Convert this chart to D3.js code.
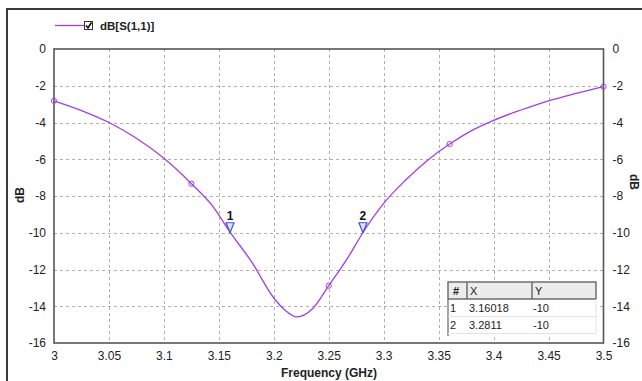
<!DOCTYPE html>
<html>
<head>
<meta charset="utf-8">
<title>S11</title>
<style>
  body { margin: 0; background: #fff; }
  svg { display: block; font-family: 'Liberation Sans', Arial, sans-serif; }
</style>
<script src="https://d3js.org/d3.v7.min.js"></script>
</head>
<body>
<svg id="chart" width="642" height="381"></svg>
<script>
// frequency (GHz) and dB[S(1,1)]
var freq = [3.0, 3.025, 3.05, 3.075, 3.1, 3.125, 3.145, 3.16, 3.18, 3.2, 3.21, 3.221, 3.235, 3.25, 3.268, 3.281, 3.3, 3.32, 3.34, 3.36, 3.38, 3.4, 3.425, 3.45, 3.475, 3.5];
var s11 = [-2.82, -3.35, -4.0, -4.86, -5.95, -7.33, -8.6, -9.95, -11.6, -13.55, -14.2, -14.58, -14.15, -12.88, -11.3, -10.0, -8.4, -7.13, -6.05, -5.17, -4.44, -3.88, -3.32, -2.82, -2.42, -2.05];
// small circle symbols on the trace
var symFreq = [3.0, 3.125, 3.25, 3.36, 3.5];
var symDb = [-2.82, -7.33, -12.88, -5.17, -2.05];
// markers
var mkName = ["1", "2"];
var mkX = [3.16018, 3.2811];
var mkY = [-10, -10];
var mkXText = ["3.16018", "3.2811"];
var mkYText = ["-10", "-10"];
var xTicks = [3, 3.05, 3.1, 3.15, 3.2, 3.25, 3.3, 3.35, 3.4, 3.45, 3.5];
var yTicks = [0, -2, -4, -6, -8, -10, -12, -14, -16];

var svg = d3.select("#chart");
var L = 54, R = 603.5, T = 49, B = 343;
var x = d3.scaleLinear().domain([3, 3.5]).range([L, R]);
var y = d3.scaleLinear().domain([0, -16]).range([T, B]);
var trace = "#a23fe0";
var fmt = d => String(d);   // plain hyphen minus, as in the picture

// outer frame
svg.append("path").attr("d", "M7,381V9H642").attr("fill", "none")
  .attr("stroke", "#3a3a3a").attr("stroke-width", 2);

// grid
var grid = svg.append("g").attr("stroke", "#b0b0b0").attr("stroke-dasharray", "3,3").attr("stroke-width", 1);
grid.selectAll(".vx").data(xTicks.slice(1, -1)).join("line")
  .attr("x1", d => Math.round(x(d)) + 0.5).attr("x2", d => Math.round(x(d)) + 0.5)
  .attr("y1", T).attr("y2", B);
grid.selectAll(".hy").data(yTicks.slice(1, -1)).join("line")
  .attr("y1", d => Math.round(y(d)) + 0.5).attr("y2", d => Math.round(y(d)) + 0.5)
  .attr("x1", L).attr("x2", R);

// axes (labels only, frame drawn separately)
var gx = svg.append("g").attr("transform", "translate(0," + B + ")")
  .call(d3.axisBottom(x).tickValues(xTicks).tickSize(0).tickPadding(6).tickFormat(fmt));
var gl = svg.append("g").attr("transform", "translate(" + L + ",0)")
  .call(d3.axisLeft(y).tickValues(yTicks).tickSize(0).tickPadding(8).tickFormat(fmt));
var gr = svg.append("g").attr("transform", "translate(" + R + ",0)")
  .call(d3.axisRight(y).tickValues(yTicks).tickSize(0).tickPadding(9).tickFormat(fmt));
[gx, gl, gr].forEach(function (g) {
  g.select(".domain").remove();
  g.selectAll("text").attr("font-size", 12).attr("fill", "#222")
    .attr("font-family", "'Liberation Sans', Arial, sans-serif");
});
gx.selectAll("text").attr("dy", "0.95em");

// plot box
svg.append("rect").attr("x", L).attr("y", T).attr("width", R - L).attr("height", B - T)
  .attr("fill", "none").attr("stroke", "#555").attr("stroke-width", 1.6);

// trace
var pts = freq.map((f, i) => [f, s11[i]]);
svg.append("path").datum(pts)
  .attr("d", d3.line().x(d => x(d[0])).y(d => y(d[1])).curve(d3.curveMonotoneX))
  .attr("fill", "none").attr("stroke", trace).attr("stroke-width", 1.3);
svg.selectAll(".sym").data(symFreq).join("circle")
  .attr("cx", d => x(d)).attr("cy", (d, i) => y(symDb[i])).attr("r", 2.6)
  .attr("fill", "none").attr("stroke", trace).attr("stroke-width", 1);

// marker triangles
mkX.forEach(function (mx, i) {
  var px = x(mx), py = y(mkY[i]);
  svg.append("path")
    .attr("d", "M" + (px - 4) + "," + (py - 10) + "H" + (px + 4) + "L" + px + "," + py + "Z")
    .attr("fill", "#dfe6ff").attr("stroke", "#3b4fe0").attr("stroke-width", 1.2);
  svg.append("text").attr("x", px).attr("y", py - 13).attr("text-anchor", "middle")
    .attr("font-size", 12).attr("font-weight", "bold").attr("fill", "#111").text(mkName[i]);
});

// axis titles
svg.append("text").attr("x", 329).attr("y", 377).attr("text-anchor", "middle")
  .attr("font-size", 12).attr("font-weight", "bold").attr("fill", "#222").text("Frequency (GHz)");
svg.append("text").attr("transform", "translate(24,195) rotate(-90)").attr("text-anchor", "middle")
  .attr("font-size", 12).attr("font-weight", "bold").attr("fill", "#222").text("dB");
svg.append("text").attr("transform", "translate(630,182) rotate(90)").attr("text-anchor", "middle")
  .attr("font-size", 12).attr("font-weight", "bold").attr("fill", "#222").text("dB");

// legend
svg.append("line").attr("x1", 55).attr("x2", 84).attr("y1", 25.5).attr("y2", 25.5)
  .attr("stroke", trace).attr("stroke-width", 1.3);
svg.append("rect").attr("x", 84.5).attr("y", 21.5).attr("width", 8).attr("height", 8)
  .attr("fill", "#fff").attr("stroke", "#333").attr("stroke-width", 1);
svg.append("path").attr("d", "M86,25.5L88,28L91.5,22.5").attr("fill", "none")
  .attr("stroke", "#111").attr("stroke-width", 1.6);
svg.append("text").attr("x", 100).attr("y", 30).attr("font-size", 11.5).attr("font-weight", "bold")
  .attr("fill", "#222").text("dB[S(1,1)]");

// marker table
var tx = 448, tw = 148, hTop = 282, hH = 17, rH = 17;
var cols = [tx, 467, 532];
var tbl = svg.append("g").attr("font-size", 11).attr("fill", "#222");
tbl.append("rect").attr("x", tx).attr("y", hTop).attr("width", tw).attr("height", hH + rH * 2 + 4)
  .attr("fill", "#fff");
tbl.append("rect").attr("x", tx).attr("y", hTop).attr("width", tw).attr("height", hH)
  .attr("fill", "#ececec").attr("stroke", "#666").attr("stroke-width", 1.4);
tbl.selectAll(".csep").data(cols.slice(1)).join("line")
  .attr("x1", d => d).attr("x2", d => d).attr("y1", hTop).attr("y2", hTop + hH)
  .attr("stroke", "#666").attr("stroke-width", 1.4);
tbl.append("line").attr("x1", tx).attr("x2", tx).attr("y1", hTop + hH).attr("y2", hTop + hH + rH * 2 + 3)
  .attr("stroke", "#666").attr("stroke-width", 1.2);
[1, 2].forEach(function (k) {
  tbl.append("line").attr("x1", tx).attr("x2", tx + tw).attr("y1", hTop + hH + rH * k + 0.5)
    .attr("y2", hTop + hH + rH * k + 0.5).attr("stroke", "#e4e4e4");
});
tbl.append("line").attr("x1", tx + tw).attr("x2", tx + tw).attr("y1", hTop + hH).attr("y2", hTop + hH + rH * 2)
  .attr("stroke", "#e4e4e4");
tbl.append("text").attr("x", 453).attr("y", hTop + 13).attr("font-weight", "bold").text("#");
tbl.append("text").attr("x", 470).attr("y", hTop + 13).text("X");
tbl.append("text").attr("x", 535).attr("y", hTop + 13).text("Y");
mkName.forEach(function (n, i) {
  var by = hTop + hH + rH * i + 13;
  tbl.append("text").attr("x", 450).attr("y", by).text(n);
  tbl.append("text").attr("x", 469).attr("y", by).text(mkXText[i]);
  tbl.append("text").attr("x", 533).attr("y", by).text(mkYText[i]);
});
</script>
</body>
</html>
